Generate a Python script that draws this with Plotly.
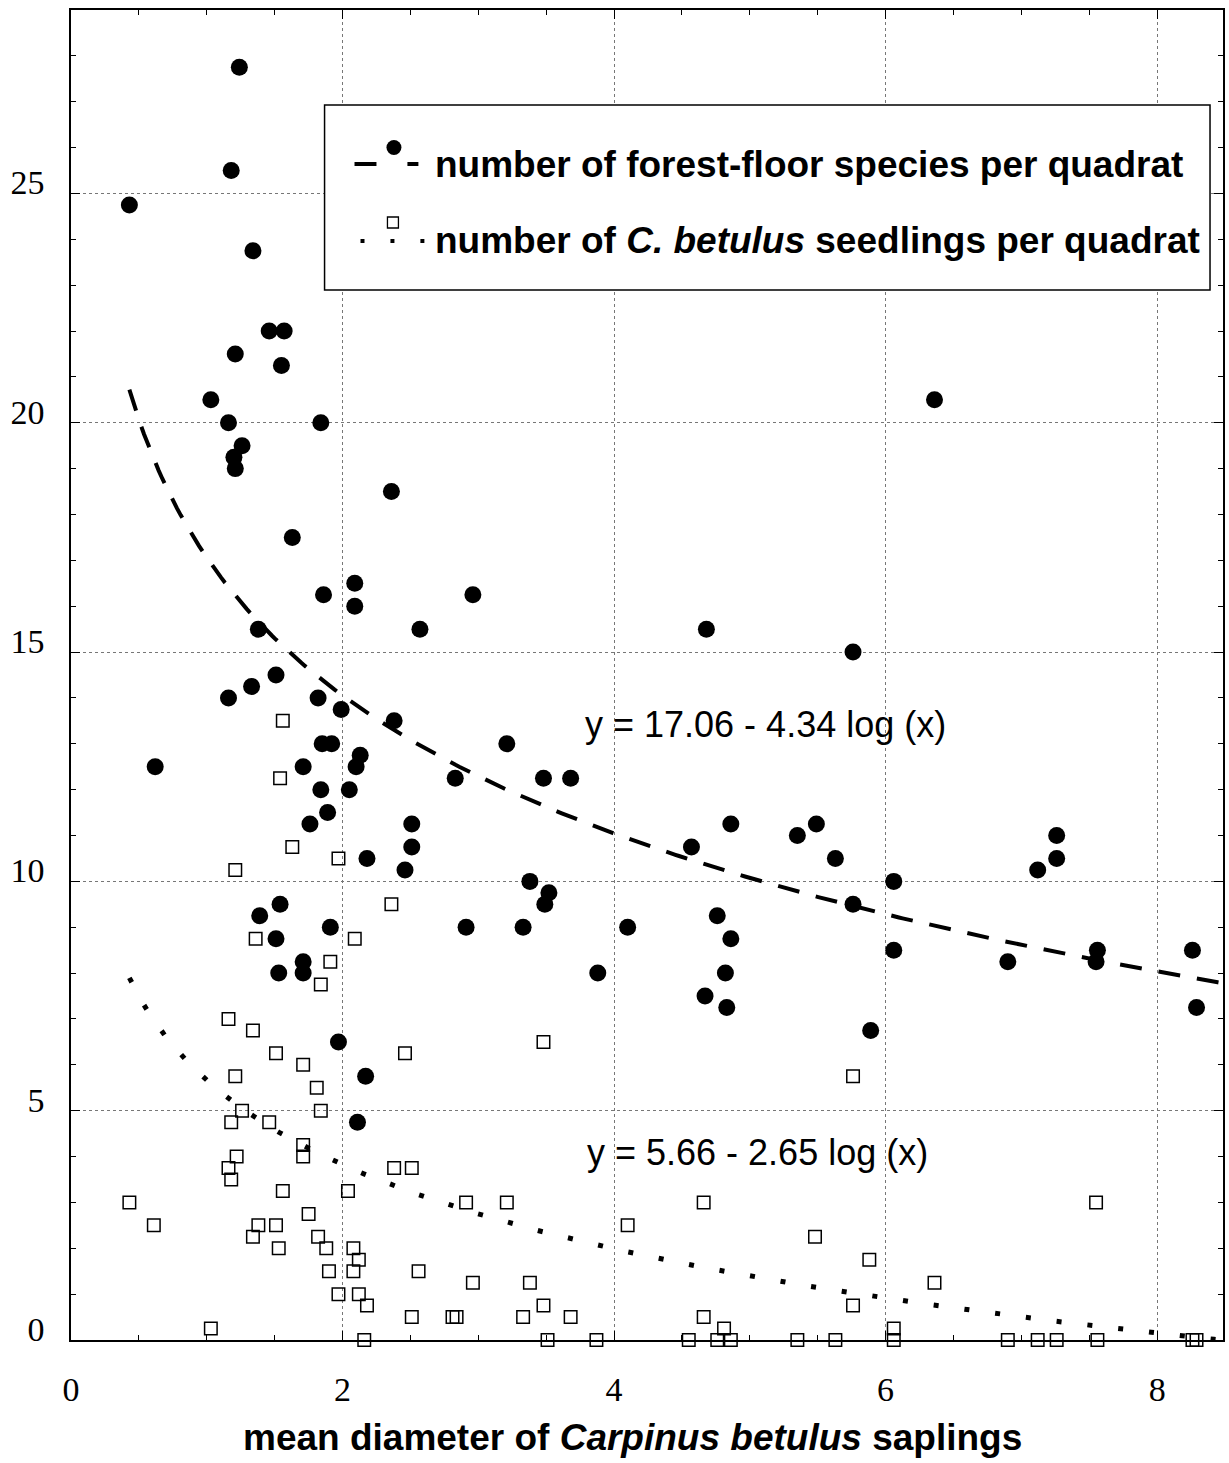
import numpy as np
import plotly.graph_objects as go

# ---------------- data ----------------
species_x = [0.43, 1.24, 1.18, 1.34, 1.46, 1.57, 1.21, 1.55, 1.03, 1.16, 1.84, 1.26, 1.20, 1.21,
             2.36, 1.63, 2.09, 1.86, 2.96, 2.09, 1.38, 2.57, 4.68, 5.76, 1.51, 1.33, 1.16, 1.82,
             1.99, 2.38, 1.85, 1.92, 3.21, 2.13, 2.10, 0.62, 1.71, 2.83, 3.48, 3.68, 1.84, 2.05,
             1.89, 1.76, 2.51, 4.86, 5.49, 5.35, 7.26, 2.18, 5.63, 7.26, 2.51, 4.57, 2.46, 7.12,
             3.38, 6.06, 3.52, 3.49, 5.76, 1.54, 1.39, 4.76, 1.91, 2.91, 3.33, 4.10, 1.51, 4.86,
             6.06, 7.56, 8.26, 1.71, 6.90, 7.55, 1.53, 1.71, 3.88, 4.82, 4.67, 4.83, 8.29, 5.89,
             1.97, 2.17, 2.11, 6.36]
species_y = [24.75, 27.75, 25.5, 23.75, 22.0, 22.0, 21.5, 21.25, 20.5, 20.0, 20.0, 19.5, 19.25, 19.0,
             18.5, 17.5, 16.5, 16.25, 16.25, 16.0, 15.5, 15.5, 15.5, 15.0, 14.5, 14.25, 14.0, 14.0,
             13.75, 13.5, 13.0, 13.0, 13.0, 12.75, 12.5, 12.5, 12.5, 12.25, 12.25, 12.25, 12.0, 12.0,
             11.5, 11.25, 11.25, 11.25, 11.25, 11.0, 11.0, 10.5, 10.5, 10.5, 10.75, 10.75, 10.25, 10.25,
             10.0, 10.0, 9.75, 9.5, 9.5, 9.5, 9.25, 9.25, 9.0, 9.0, 9.0, 9.0, 8.75, 8.75,
             8.5, 8.5, 8.5, 8.25, 8.25, 8.25, 8.0, 8.0, 8.0, 8.0, 7.5, 7.25, 7.25, 6.75,
             6.5, 5.75, 4.75, 20.5]

seedling_x = [0.43, 0.61, 1.03, 1.16, 1.34, 1.21, 1.26, 1.18, 1.22, 1.16, 1.18, 1.46, 1.51, 1.56,
              1.38, 1.34, 1.51, 1.53, 1.56, 1.54, 1.21, 1.63, 1.36, 1.71, 1.71, 1.71, 1.75, 1.81,
              1.84, 1.82, 1.88, 1.84, 1.91, 1.90, 1.97, 1.97, 2.09, 2.04, 2.08, 2.08, 2.12, 2.12,
              2.18, 2.16, 2.36, 2.38, 2.51, 2.46, 2.56, 2.51, 2.81, 2.84, 2.91, 2.96, 3.21, 3.33,
              3.38, 3.48, 3.48, 3.51, 3.68, 3.87, 4.10, 4.55, 4.66, 4.66, 4.76, 4.81, 4.86, 5.35,
              5.48, 5.63, 5.76, 5.76, 5.88, 6.06, 6.06, 6.36, 6.90, 7.12, 7.26, 7.55, 7.56, 8.26, 8.29]
seedling_y = [3.0, 2.5, 0.25, 7.0, 6.75, 5.75, 5.0, 4.75, 4.0, 3.75, 3.5, 4.75, 6.25, 3.25,
              2.5, 2.25, 2.5, 2.0, 13.5, 12.25, 10.25, 10.75, 8.75, 6.0, 4.25, 4.0, 2.75, 5.5,
              5.0, 2.25, 2.0, 7.75, 8.25, 1.5, 1.0, 10.5, 8.75, 3.25, 2.0, 1.5, 1.75, 1.0,
              0.75, 0.0, 9.5, 3.75, 3.75, 6.25, 1.5, 0.5, 0.5, 0.5, 3.0, 1.25, 3.0, 0.5,
              1.25, 6.5, 0.75, 0.0, 0.5, 0.0, 2.5, 0.0, 3.0, 0.5, 0.0, 0.25, 0.0, 0.0,
              2.25, 0.0, 5.75, 0.75, 1.75, 0.25, 0.0, 1.25, 0.0, 0.0, 0.0, 3.0, 0.0, 0.0, 0.0]

# fitted equations shown on the chart: y = a - b*log(x)
species_fit = (17.06, 4.34)
seedling_fit = (5.66, 2.65)
fit_x_start, fit_x_end = 0.43, 8.5

x_range = [0, 8.485]
y_range = [0, 29]
x_ticks = [0, 2, 4, 6, 8]
y_ticks = [0, 5, 10, 15, 20, 25]

# ---------------- figure ----------------
W, H = 1229, 1463
ML, MR, MT, MB = 71, 4, 10, 123
PW, PH = W - ML - MR, H - MT - MB

def px(xp):
    return (xp - ML) / PW

def py(yp):
    return 1 - (yp - MT) / PH

SANS = "Liberation Sans, Arial, sans-serif"
SERIF = "Liberation Serif, Times New Roman, serif"

fx = np.linspace(fit_x_start, fit_x_end, 300)
fig = go.Figure()

fig.add_trace(go.Scatter(
    x=fx, y=species_fit[0] - species_fit[1] * np.log(fx), mode="lines",
    line=dict(color="black", width=4, dash="22px,17px"), hoverinfo="skip", showlegend=False))
fig.add_trace(go.Scatter(
    x=fx, y=seedling_fit[0] - seedling_fit[1] * np.log(fx), mode="lines",
    line=dict(color="black", width=5, dash="5px,26px"), hoverinfo="skip", showlegend=False))
fig.add_trace(go.Scatter(
    x=species_x, y=species_y, mode="markers",
    marker=dict(symbol="circle", size=17, color="black", line=dict(width=0)),
    showlegend=False, cliponaxis=False))
fig.add_trace(go.Scatter(
    x=seedling_x, y=seedling_y, mode="markers",
    marker=dict(symbol="square-open", size=12.5, color="black", line=dict(width=1.5)),
    showlegend=False, cliponaxis=False))

axis_common = dict(
    showline=True, linecolor="black", linewidth=1.5, mirror="ticks",
    ticks="inside", ticklen=9, tickwidth=1.2, tickcolor="black",
    showgrid=True, gridcolor="#777777", gridwidth=1, griddash="dot",
    zeroline=False, tickfont=dict(family=SERIF, size=34, color="black"),
)
fig.update_xaxes(range=x_range, tickvals=x_ticks, ticklabelstandoff=18,
                 minor=dict(dtick=0.5, ticks="inside", ticklen=5, tickcolor="black", showgrid=False),
                 **axis_common)
fig.update_yaxes(range=y_range, tickvals=y_ticks, ticklabelstandoff=18, ticklabelshift=-11,
                 minor=dict(dtick=1, ticks="inside", ticklen=5, tickcolor="black", showgrid=False),
                 **axis_common)

shapes = []
annotations = []

# legend box
shapes.append(dict(type="rect", xref="paper", yref="paper",
                   x0=px(325), x1=px(1212), y0=py(290), y1=py(105),
                   line=dict(color="black", width=1.5), fillcolor="white", layer="above"))
# row 1 symbol: dash - dot - dash
shapes.append(dict(type="line", xref="paper", yref="paper", x0=px(355), x1=px(377), y0=py(164), y1=py(164),
                   line=dict(color="black", width=4), layer="above"))
shapes.append(dict(type="line", xref="paper", yref="paper", x0=px(408), x1=px(419), y0=py(164), y1=py(164),
                   line=dict(color="black", width=4), layer="above"))
shapes.append(dict(type="circle", xref="paper", yref="paper", x0=px(387), x1=px(402), y0=py(155), y1=py(140),
                   line=dict(color="black", width=0), fillcolor="black", layer="above"))
# row 2 symbol: dots + square
for xd in (363, 393, 423):
    shapes.append(dict(type="rect", xref="paper", yref="paper", x0=px(xd - 2), x1=px(xd + 2),
                       y0=py(243), y1=py(239), line=dict(width=0), fillcolor="black", layer="above"))
shapes.append(dict(type="rect", xref="paper", yref="paper", x0=px(388), x1=px(399), y0=py(228), y1=py(217),
                   line=dict(color="black", width=1.3), fillcolor="rgba(0,0,0,0)", layer="above"))

annotations.append(dict(xref="paper", yref="paper", x=px(434), y=py(164), xanchor="left", yanchor="middle",
                        text="<b>number of forest-floor species per quadrat</b>", showarrow=False,
                        font=dict(family=SANS, size=37, color="black")))
annotations.append(dict(xref="paper", yref="paper", x=px(434), y=py(241), xanchor="left", yanchor="middle",
                        text="<b>number of <i>C. betulus</i> seedlings per quadrat</b>", showarrow=False,
                        font=dict(family=SANS, size=37, color="black")))

# equations
annotations.append(dict(xref="paper", yref="paper", x=px(584), y=py(724), xanchor="left", yanchor="middle",
                        text="y = %.2f - %.2f log (x)" % species_fit, showarrow=False,
                        font=dict(family=SANS, size=36, color="black")))
annotations.append(dict(xref="paper", yref="paper", x=px(586), y=py(1152), xanchor="left", yanchor="middle",
                        text="y = %.2f - %.2f log (x)" % seedling_fit, showarrow=False,
                        font=dict(family=SANS, size=36, color="black")))

# x-axis title
annotations.append(dict(xref="paper", yref="paper", x=px(633), y=py(1437), xanchor="center", yanchor="middle",
                        text="<b>mean diameter of <i>Carpinus betulus</i> saplings</b>", showarrow=False,
                        font=dict(family=SANS, size=37, color="black")))

fig.update_layout(
    width=W, height=H, autosize=False,
    margin=dict(l=ML, r=MR, t=MT, b=MB, pad=0),
    paper_bgcolor="white", plot_bgcolor="white",
    shapes=shapes, annotations=annotations, showlegend=False,
)

fig.write_html("out.html")
